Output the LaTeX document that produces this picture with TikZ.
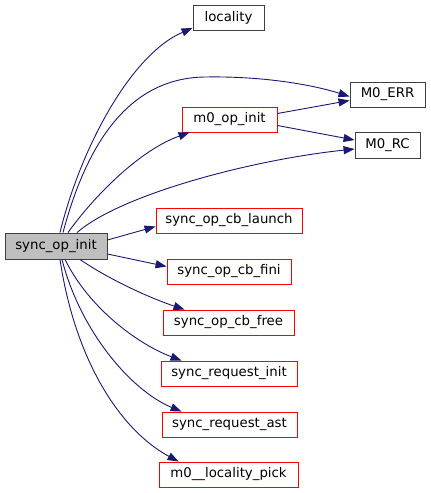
\documentclass[tikz,border=0pt]{standalone}
\usepackage{fontspec}
\setmainfont{DejaVu Sans}
\usetikzlibrary{arrows.meta}
\definecolor{edgeblue}{HTML}{191970}
\definecolor{boxgrey}{HTML}{BFBFBF}
\definecolor{boxred}{HTML}{FF0000}
\tikzset{
  fn/.style={draw=black!75, line width=0.9pt, fill=white, rectangle, inner sep=0pt, minimum height=25pt, font=\fontsize{13.3}{15}\selectfont},
  fnred/.style={fn, draw=boxred},
  fnmain/.style={fn, fill=boxgrey, minimum height=26pt},
  call/.style={draw=edgeblue, line width=0.9pt, -{Triangle[length=11pt,width=8pt]}},
}
\begin{document}
\begin{tikzpicture}[x=1pt,y=-1pt]
\useasboundingbox (0,0) rectangle (431,493);
\node[fnmain, minimum width=102pt] (main) at (56,246) {sync\_op\_init};
\node[fn, minimum width=71pt] (loc) at (228.5,18) {locality};
\node[fn, minimum width=75pt] (err) at (387.5,94.5) {M0\_ERR};
\node[fnred, minimum width=95pt] (opinit) at (229.5,119.5) {m0\_op\_init};
\node[fn, minimum width=65pt, minimum height=26pt] (rc) at (387.5,145) {M0\_RC};
\node[fnred, minimum width=146pt] (launch) at (229,220.5) {sync\_op\_cb\_launch};
\node[fnred, minimum width=124pt] (fini) at (229,271.5) {sync\_op\_cb\_fini};
\node[fnred, minimum width=131pt] (free) at (228.5,322.5) {sync\_op\_cb\_free};
\node[fnred, minimum width=136pt] (reqinit) at (229,373.5) {sync\_request\_init};
\node[fnred, minimum width=135pt] (reqast) at (229.5,424.5) {sync\_request\_ast};
\node[fnred, minimum width=139pt] (pick) at (228.5,474.5) {m0\_\_locality\_pick};

\draw[call] ([xshift=4pt]main.north) .. controls (80,150) and (130,55) .. ([yshift=3pt]loc.south west);
\draw[call] ([xshift=7pt]main.north) .. controls (85,150) and (125,78) .. (205,77) .. controls (260,76) and (310,84) .. ([yshift=-2pt]err.west);
\draw[call] ([xshift=12pt]main.north) .. controls (95,195) and (140,150) .. ([xshift=8pt]opinit.south west);
\draw[call] ([xshift=21pt]main.north) .. controls (120,195) and (250,160) .. ([yshift=-4pt]rc.west);
\draw[call] ([yshift=6pt]main.east) -- ([yshift=-6pt]launch.west);
\draw[call] ([yshift=-8pt]main.east) -- ([yshift=5pt]fini.west);
\draw[call] ([xshift=24pt]main.south) .. controls (110,280) and (150,298) .. ([xshift=22pt]free.north west);
\draw[call] ([xshift=9pt]main.south) .. controls (90,310) and (140,345) .. ([xshift=21pt]reqinit.north west);
\draw[call] ([xshift=6pt]main.south) .. controls (80,330) and (130,390) .. ([xshift=20pt]reqast.north west);
\draw[call] ([xshift=4pt]main.south) .. controls (75,360) and (120,430) .. ([xshift=20pt]pick.north west);
\draw[call] ([yshift=6pt]opinit.east) -- ([yshift=-6pt]err.west);
\draw[call] ([yshift=-6pt]opinit.east) -- ([yshift=5pt]rc.west);
\end{tikzpicture}
\end{document}
